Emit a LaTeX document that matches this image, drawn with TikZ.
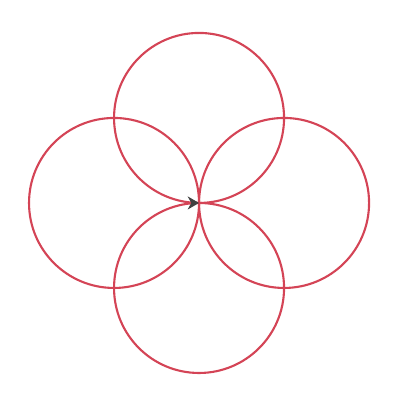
\documentclass[tikz,border=0pt]{standalone}
\usetikzlibrary{arrows.meta}
\definecolor{petal}{RGB}{212,68,86}
\begin{document}
\begin{tikzpicture}[scale=0.02,line join=round,line cap=round]
		\useasboundingbox (0,0) rectangle (412,404);
		\coordinate (O) at (199,201);
		\coordinate (T) at (199,286);
		\coordinate (B) at (199,116);
		\coordinate (L) at (114,201);
		\coordinate (R) at (284,201);
		\draw[petal,line width=1.2pt] (T) circle (85);
		\draw[petal,line width=1.2pt] (B) circle (85);
		\draw[petal,line width=1.2pt] (L) circle (85);
		\draw[petal,line width=1.2pt] (R) circle (85);
		\coordinate (A) at (192,201);
		\draw[black!75,line width=0.6pt,-{Stealth[length=6.5pt,width=7.5pt]}] (A) -- ([xshift=-0.3pt]O);
		\end{tikzpicture}
\end{document}
